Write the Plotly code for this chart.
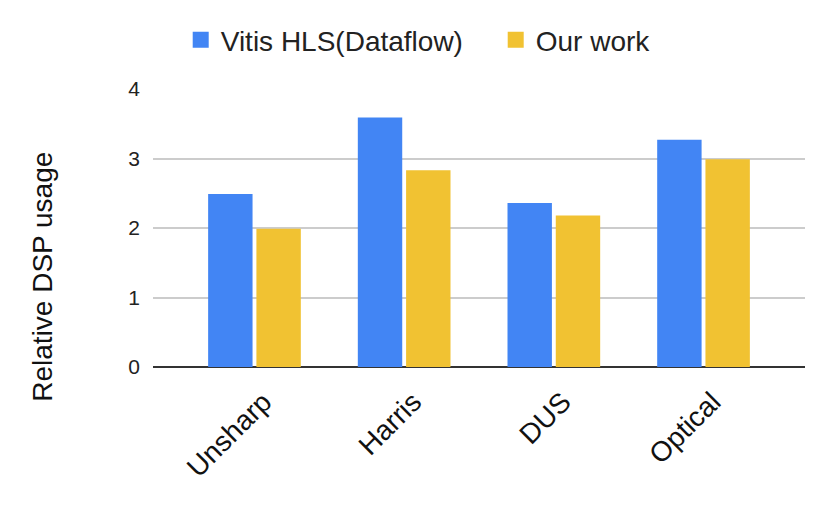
import plotly.graph_objects as go

categories = ["Unsharp", "Harris", "DUS", "Optical"]
vitis_hls = [2.49, 3.59, 2.36, 3.27]
our_work = [1.99, 2.83, 2.18, 2.99]
y_ticks = [0, 1, 2, 3, 4]

series = [
    ("Vitis HLS(Dataflow)", vitis_hls, "#4285F4"),
    ("Our work", our_work, "#F1C232"),
]

FONT = "Liberation Sans, Arial, sans-serif"

fig = go.Figure()
for name, values, color in series:
    fig.add_trace(
        go.Bar(
            x=categories,
            y=values,
            name=name,
            legendgroup=name,
            showlegend=False,
            marker={"color": color, "line": {"width": 0}},
        )
    )
# legend-only entries so the legend squares can be bigger than the bar default
for name, _, color in series:
    fig.add_trace(
        go.Scatter(
            x=[None],
            y=[None],
            mode="markers",
            name=name,
            legendgroup=name,
            marker={"symbol": "square", "size": 18, "color": color},
        )
    )

# page body adds an 8px margin, so the figure is a bit smaller than the window
fig.update_layout(
    width=822,
    height=501,
    margin={"l": 145, "r": 25, "t": 81, "b": 142, "autoexpand": False},
    paper_bgcolor="white",
    plot_bgcolor="white",
    font={"family": FONT, "color": "#222222"},
    barmode="group",
    bargap=0.355,
    bargroupgap=0.08,
    legend={
        "orientation": "h",
        "x": 0.0425,
        "xanchor": "left",
        "yref": "container",
        "y": 0.936,
        "yanchor": "middle",
        "font": {"size": 28, "color": "#222222"},
        "itemsizing": "trace",
        "itemwidth": 30,
        "entrywidth": 270,
        "entrywidthmode": "pixels",
    },
)
fig.update_xaxes(
    range=[-0.678, 3.678],
    tickangle=-45,
    tickfont={"size": 28, "color": "#111111"},
    showgrid=False,
    showline=False,
    ticks="",
    ticklabelstandoff=12,
    ticklabelshift=9,
)
fig.update_yaxes(
    range=[0, 4],
    tickvals=y_ticks,
    tickfont={"size": 21, "color": "#222222"},
    showgrid=True,
    gridcolor="#CCCCCC",
    gridwidth=2,
    zeroline=True,
    zerolinecolor="#333333",
    zerolinewidth=2,
    showline=False,
    ticks="",
    ticklabelstandoff=12,
)
fig.add_annotation(
    text="Relative DSP usage",
    xref="paper",
    yref="paper",
    x=-0.169,
    y=0.324,
    xanchor="center",
    yanchor="middle",
    textangle=-90,
    showarrow=False,
    font={"size": 28, "color": "#111111"},
)

fig.write_html("out.html")
